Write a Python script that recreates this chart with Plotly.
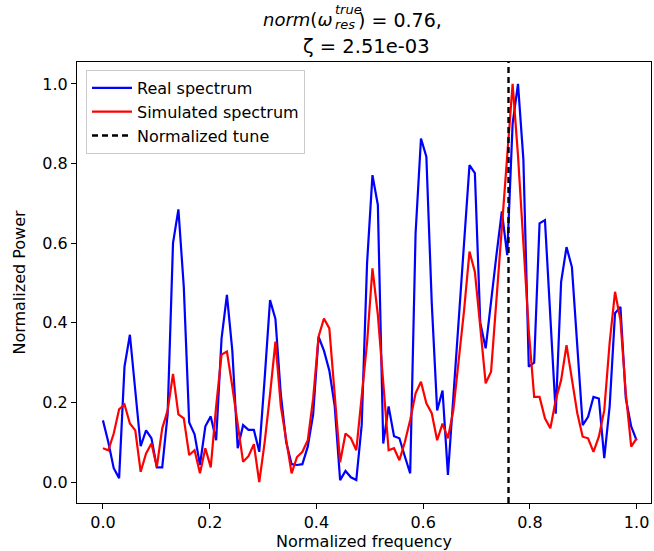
import plotly.graph_objects as go

freq_count = 100
real_spectrum = [
    0.155, 0.10, 0.035, 0.01, 0.29, 0.37, 0.23, 0.09, 0.13, 0.11,
    0.037, 0.037, 0.17, 0.60, 0.685, 0.49, 0.15, 0.12, 0.043, 0.14,
    0.165, 0.105, 0.36, 0.47, 0.33, 0.085, 0.143, 0.131, 0.131, 0.076,
    0.26, 0.457, 0.41, 0.22, 0.10, 0.045, 0.043, 0.045, 0.089, 0.17,
    0.365, 0.33, 0.28, 0.19, 0.005, 0.028, 0.012, 0.005, 0.143, 0.55,
    0.771, 0.696, 0.097, 0.19, 0.115, 0.11, 0.065, 0.022, 0.625, 0.863,
    0.817, 0.45, 0.18, 0.23, 0.018, 0.21, 0.41, 0.60, 0.796, 0.776,
    0.40, 0.336, 0.46, 0.57, 0.68, 0.57, 0.90, 1.0, 0.81, 0.29,
    0.30, 0.65, 0.658, 0.415, 0.172, 0.503, 0.59, 0.54, 0.35, 0.143,
    0.164, 0.214, 0.21, 0.06, 0.19, 0.424, 0.44, 0.21, 0.14, 0.105,
]
simulated_spectrum = [
    0.085, 0.08, 0.122, 0.183, 0.195, 0.147, 0.13, 0.026, 0.072, 0.097,
    0.038, 0.135, 0.18, 0.272, 0.17, 0.16, 0.068, 0.08, 0.022, 0.085,
    0.037, 0.19, 0.32, 0.328, 0.24, 0.15, 0.051, 0.065, 0.095, 0.0,
    0.10, 0.22, 0.353, 0.19, 0.105, 0.022, 0.063, 0.076, 0.105, 0.21,
    0.365, 0.411, 0.386, 0.22, 0.05, 0.122, 0.11, 0.08, 0.22, 0.35,
    0.537, 0.42, 0.25, 0.08, 0.085, 0.055, 0.10, 0.156, 0.223, 0.252,
    0.198, 0.173, 0.105, 0.147, 0.11, 0.18, 0.306, 0.432, 0.579, 0.528,
    0.39, 0.248, 0.277, 0.46, 0.65, 0.84, 1.0, 0.82, 0.60, 0.38,
    0.214, 0.214, 0.16, 0.135, 0.206, 0.256, 0.344, 0.256, 0.173, 0.114,
    0.11, 0.076, 0.114, 0.18, 0.35, 0.478, 0.407, 0.223, 0.089, 0.11,
]
frequencies = [i / (freq_count - 1) for i in range(freq_count)]
tune = 0.76
x_ticks = [0.0, 0.2, 0.4, 0.6, 0.8, 1.0]
y_ticks = [0.0, 0.2, 0.4, 0.6, 0.8, 1.0]

FONT = "DejaVu Sans"
W, H = 654, 551
L, R, T, B = 77, 3, 62, 48
pw, ph = W - L - R, H - T - B

fig = go.Figure()
fig.add_trace(go.Scatter(x=frequencies, y=real_spectrum, mode="lines",
                         name="Real spectrum", line=dict(color="#0000ff", width=2.2)))
fig.add_trace(go.Scatter(x=frequencies, y=simulated_spectrum, mode="lines",
                         name="Simulated spectrum", line=dict(color="#ff0000", width=2.2)))
fig.add_trace(go.Scatter(x=[tune, tune], y=[-0.0525, 1.055], mode="lines",
                         name="Normalized tune",
                         line=dict(color="black", width=2.4, dash="6px,4px")))

def px_x(p):
    return (p - L) / pw

def px_y(p):
    return 1 - (p - T) / ph

def text_ann(txt, x, y, size, xanchor):
    fig.add_annotation(x=px_x(x), y=px_y(y), xref="paper", yref="paper",
                       text=txt, showarrow=False,
                       font=dict(family=FONT, size=size, color="black"),
                       xanchor=xanchor, yanchor="middle", borderpad=0)

text_ann("<i>norm</i>(<i>ω</i>", 333, 20, 18, "right")
text_ann("<i>true</i>", 334, 9, 13, "left")
text_ann("<i>res</i>", 334, 25, 13, "left")
text_ann(") = 0.76,", 357, 20, 19, "left")
text_ann("ζ = 2.51e-03", 366, 47, 19.5, "center")

axis_common = dict(showline=True, linecolor="black", linewidth=1, mirror=True,
                   ticks="outside", ticklen=5, tickwidth=1, tickcolor="black",
                   showgrid=False, zeroline=False,
                   tickfont=dict(family=FONT, size=16, color="black"))
fig.update_xaxes(range=[-0.0486, 1.027], tickvals=x_ticks,
                 ticktext=[f"{v:.1f}" for v in x_ticks],
                 title=dict(text="Normalized frequency", standoff=7,
                            font=dict(family=FONT, size=16, color="black")),
                 **axis_common)
fig.update_yaxes(range=[-0.0525, 1.055], tickvals=y_ticks,
                 ticktext=[f"{v:.1f}" for v in y_ticks],
                 title=dict(text="Normalized Power", standoff=12,
                            font=dict(family=FONT, size=16, color="black")),
                 **axis_common)

fig.update_layout(
    width=W, height=H, margin=dict(l=L, r=R, t=T, b=B, autoexpand=False),
    paper_bgcolor="white", plot_bgcolor="white",
    showlegend=True,
    legend=dict(x=px_x(86), y=px_y(70), xanchor="left", yanchor="top",
                bgcolor="rgba(255,255,255,0.8)", bordercolor="#cccccc", borderwidth=1,
                font=dict(family=FONT, size=16, color="black"),
                tracegroupgap=0, itemwidth=40),
)

fig.write_html("out.html", config={"displayModeBar": False},
               post_script="document.body.style.margin='0';document.body.style.overflow='hidden';")
